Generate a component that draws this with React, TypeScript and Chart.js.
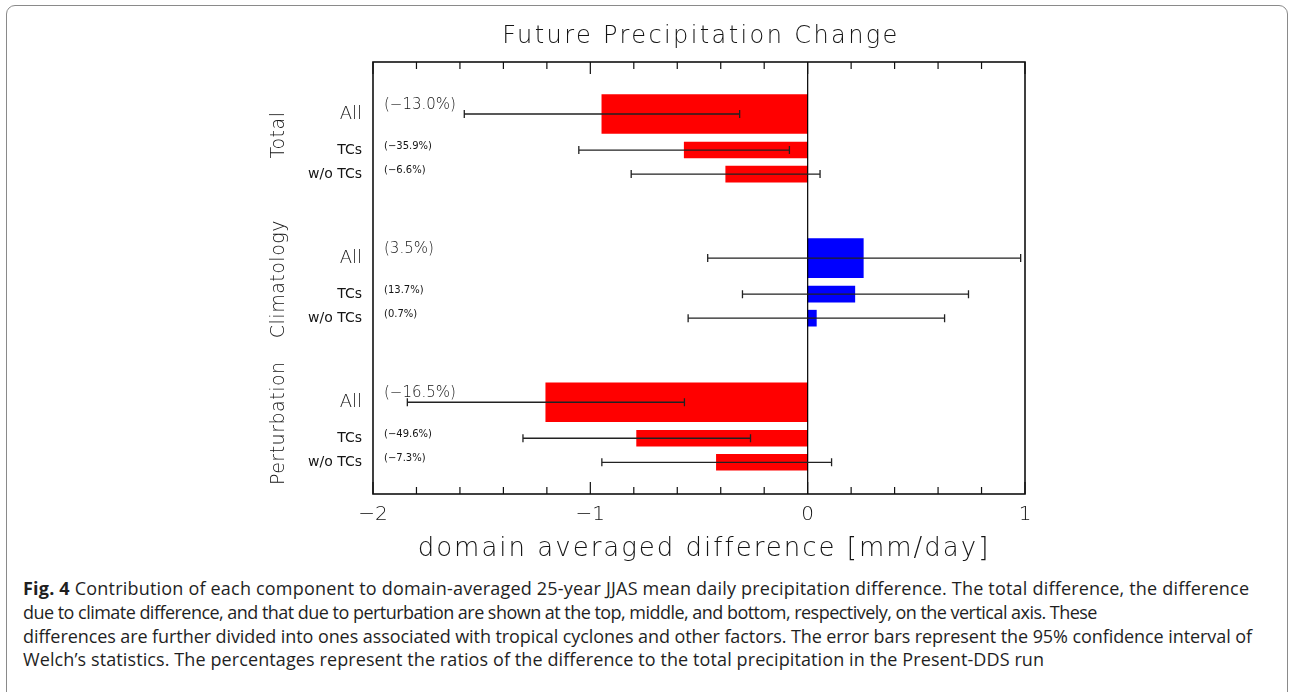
import React, { useEffect, useRef } from 'react';
import { Chart, registerables } from 'chart.js';

Chart.register(...registerables);

// ---------------- data ----------------
const groups = ['Total', 'Climatology', 'Perturbation'];
const components = ['All', 'TCs', 'w/o TCs'];

const diffAll = [-0.947, 0.256, -1.205];
const diffTCs = [-0.568, 0.217, -0.787];
const diffWoTCs = [-0.377, 0.04, -0.42];

const errLowAll = [-1.58, -0.46, -1.842];
const errHighAll = [-0.313, 0.98, -0.567];
const errLowTCs = [-1.053, -0.3, -1.31];
const errHighTCs = [-0.084, 0.74, -0.263];
const errLowWoTCs = [-0.812, -0.55, -0.947];
const errHighWoTCs = [0.057, 0.63, 0.11];

const pctAll = [-13.0, 3.5, -16.5];
const pctTCs = [-35.9, 13.7, -49.6];
const pctWoTCs = [-6.6, 0.7, -7.3];

const xTicks = [-2, -1, 0, 1];
const xMinorTicks = [-1.8, -1.6, -1.4, -1.2, -0.8, -0.6, -0.4, -0.2, 0.2, 0.4, 0.6, 0.8];

const chartTitle = 'Future Precipitation Change';
const xTitle = 'domain averaged difference [mm/day]';

const captionLines = [
  'Contribution of each component to domain-averaged 25-year JJAS mean daily precipitation difference. The total difference, the difference',
  'due to climate difference, and that due to perturbation are shown at the top, middle, and bottom, respectively, on the vertical axis. These',
  'differences are further divided into ones associated with tropical cyclones and other factors. The error bars represent the 95% confidence interval of',
  'Welch\u2019s statistics. The percentages represent the ratios of the difference to the total precipitation in the Present-DDS run',
];
const captionSpacing = ['0.2px', '-0.53px', '-0.08px', '0.1px'];

// ---------------- layout helpers ----------------
const GROUP_STRIDE = 12;
const COMP_OFFSET = [0, 3, 5];
const FONT = '"DejaVu Sans", "Liberation Sans", sans-serif';
const INK = '#141414';

const compValues = [diffAll, diffTCs, diffWoTCs];
const compLow = [errLowAll, errLowTCs, errLowWoTCs];
const compHigh = [errHighAll, errHighTCs, errHighWoTCs];
const compPct = [pctAll, pctTCs, pctWoTCs];

type Row = { pos: number; g: number; c: number; value: number; lo: number; hi: number; pct: number };
const rows: Row[] = [];
groups.forEach((_, g) => {
  components.forEach((__, c) => {
    rows.push({
      pos: g * GROUP_STRIDE + COMP_OFFSET[c],
      g,
      c,
      value: compValues[c][g],
      lo: compLow[c][g],
      hi: compHigh[c][g],
      pct: compPct[c][g],
    });
  });
});

const fmtNum = (v: number, d: number) => (v < 0 ? '\u2212' + Math.abs(v).toFixed(d) : v.toFixed(d));

const decorations = {
  id: 'decorations',
  afterDatasetsDraw(chart: any) {
    const { ctx, chartArea } = chart;
    const xs = chart.scales.x;
    const ys = chart.scales.y;
    const { left, right, top, bottom } = chartArea;
    ctx.save();

    // zero line
    const x0 = xs.getPixelForValue(0);
    ctx.strokeStyle = '#000';
    ctx.lineWidth = 1.2;
    ctx.beginPath();
    ctx.moveTo(x0, top);
    ctx.lineTo(x0, bottom);
    ctx.stroke();

    // error bars
    ctx.strokeStyle = '#222';
    ctx.lineWidth = 1.3;
    rows.forEach((r) => {
      const y = ys.getPixelForValue(r.pos);
      const a = xs.getPixelForValue(r.lo);
      const b = xs.getPixelForValue(r.hi);
      ctx.beginPath();
      ctx.moveTo(a, y);
      ctx.lineTo(b, y);
      ctx.moveTo(a, y - 4);
      ctx.lineTo(a, y + 4);
      ctx.moveTo(b, y - 4);
      ctx.lineTo(b, y + 4);
      ctx.stroke();
    });

    // frame
    ctx.strokeStyle = '#111';
    ctx.lineWidth = 1.6;
    ctx.strokeRect(left, top, right - left, bottom - top);

    // inner ticks, top and bottom
    ctx.lineWidth = 1.2;
    const drawTick = (v: number, len: number) => {
      const px = xs.getPixelForValue(v);
      ctx.beginPath();
      ctx.moveTo(px, bottom);
      ctx.lineTo(px, bottom - len);
      ctx.moveTo(px, top);
      ctx.lineTo(px, top + len);
      ctx.stroke();
    };
    xMinorTicks.forEach((v) => drawTick(v, 7));
    xTicks.forEach((v) => drawTick(v, 12));

    // percentage labels
    ctx.fillStyle = INK;
    ctx.textAlign = 'left';
    ctx.textBaseline = 'middle';
    rows.forEach((r) => {
      const y = ys.getPixelForValue(r.pos);
      const big = r.c === 0;
      ctx.font = big ? `200 15px ${FONT}` : `10px ${FONT}`;
      ctx.fillText(`(${fmtNum(r.pct, 1)}%)`, left + 11, y - (big ? 9 : 4));
    });

    // group labels (rotated)
    ctx.font = `200 19px ${FONT}`;
    ctx.textAlign = 'center';
    ctx.textBaseline = 'middle';
    (ctx as any).letterSpacing = '0.5px';
    groups.forEach((name, g) => {
      const first = ys.getPixelForValue(g * GROUP_STRIDE + COMP_OFFSET[0]);
      const last = ys.getPixelForValue(g * GROUP_STRIDE + COMP_OFFSET[2]);
      const cy = (first + last) / 2 - 9;
      ctx.save();
      ctx.translate(left - 94, cy);
      ctx.rotate(-Math.PI / 2);
      ctx.fillText(name, 0, 0);
      ctx.restore();
    });

    // chart title
    ctx.font = `200 24px ${FONT}`;
    (ctx as any).letterSpacing = '2.4px';
    ctx.fillText(chartTitle, (left + right) / 2 + 2, top - 25);

    // x axis title
    ctx.font = `200 26px ${FONT}`;
    (ctx as any).letterSpacing = '2px';
    ctx.fillText(xTitle, (left + right) / 2 + 5, bottom + 55);
    (ctx as any).letterSpacing = '0px';

    ctx.restore();
  },
};

export default function App() {
  const canvasRef = useRef<HTMLCanvasElement | null>(null);

  useEffect(() => {
    const canvas = canvasRef.current;
    if (!canvas) return;
    const allRows = rows.filter((r) => r.c === 0);
    const subRows = rows.filter((r) => r.c !== 0);
    const color = (ctx: any) => {
      const v = ctx.raw ? ctx.raw.x : 0;
      return v < 0 ? '#ff0000' : '#0000ff';
    };
    const chart = new Chart(canvas, {
      type: 'bar',
      data: {
        datasets: [
          {
            label: components[0],
            data: allRows.map((r) => ({ x: r.value, y: r.pos })),
            backgroundColor: color,
            borderWidth: 0,
            barThickness: 39,
            stack: 'one',
          } as any,
          {
            label: 'components',
            data: subRows.map((r) => ({ x: r.value, y: r.pos })),
            backgroundColor: color,
            borderWidth: 0,
            barThickness: 16,
            stack: 'one',
          } as any,
        ],
      },
      plugins: [decorations],
      options: {
        indexAxis: 'y',
        responsive: false,
        animation: false,
        events: [],
        layout: { padding: { left: 0, top: 62, right: 264, bottom: 0 } },
        plugins: {
          legend: { display: false },
          title: { display: false },
          tooltip: { enabled: false },
        },
        scales: {
          x: {
            type: 'linear',
            min: -2,
            max: 1,
            stacked: true,
            offset: false,
            grid: { display: false, drawTicks: false, offset: false },
            border: { display: false },
            afterBuildTicks: (scale: any) => {
              scale.ticks = xTicks.map((v) => ({ value: v }));
            },
            afterFit: (scale: any) => {
              scale.height = 81;
            },
            ticks: {
              autoSkip: false,
              maxRotation: 0,
              padding: 9,
              color: INK,
              font: { family: FONT, size: 20, weight: '200' as any },
              callback: (v: any) => fmtNum(Number(v), 0),
            },
          },
          y: {
            type: 'linear',
            reverse: true,
            min: -4.33,
            max: 31.64,
            stacked: true,
            offset: false,
            grid: { display: false, drawTicks: false, offset: false },
            border: { display: false },
            afterBuildTicks: (scale: any) => {
              scale.ticks = rows.map((r) => ({ value: r.pos }));
            },
            afterFit: (scale: any) => {
              scale.width = 373;
            },
            ticks: {
              autoSkip: false,
              padding: 11,
              color: INK,
              font: (ctx: any) => {
                const r = rows[ctx.index];
                return { family: FONT, size: r && r.c === 0 ? 18 : 14, weight: (r && r.c === 0 ? '200' : 'normal') as any };
              },
              callback: (v: any) => {
                const r = rows.find((q) => q.pos === Number(v));
                return r ? components[r.c] : '';
              },
            },
          },
        },
      },
    });
    return () => chart.destroy();
  }, []);

  return (
    <div
      style={{
        position: 'fixed',
        left: 0,
        top: 0,
        width: 1289,
        height: 692,
        overflow: 'hidden',
        background: '#fff',
      }}
    >
      <div
        style={{
          position: 'absolute',
          left: 6,
          top: 5,
          width: 1282,
          height: 760,
          border: '1.5px solid #8a8a8a',
          borderRadius: 9,
          boxSizing: 'border-box',
        }}
      />
      <canvas
        ref={canvasRef}
        width={1289}
        height={575}
        style={{ position: 'absolute', left: 0, top: 0, width: 1289, height: 575, display: 'block' }}
      />
      <div
        style={{
          position: 'absolute',
          left: 23,
          top: 577,
          fontFamily: '"Open Sans", "Noto Sans", sans-serif',
          fontSize: 18,
          lineHeight: '23.8px',
          color: '#1f1f1f',
          whiteSpace: 'nowrap',
        }}
      >
        {captionLines.map((line, i) => (
          <div key={i} style={{ letterSpacing: captionSpacing[i] }}>
            {i === 0 ? <b style={{ fontWeight: 700 }}>Fig. 4 </b> : null}
            {line}
          </div>
        ))}
      </div>
    </div>
  );
}
